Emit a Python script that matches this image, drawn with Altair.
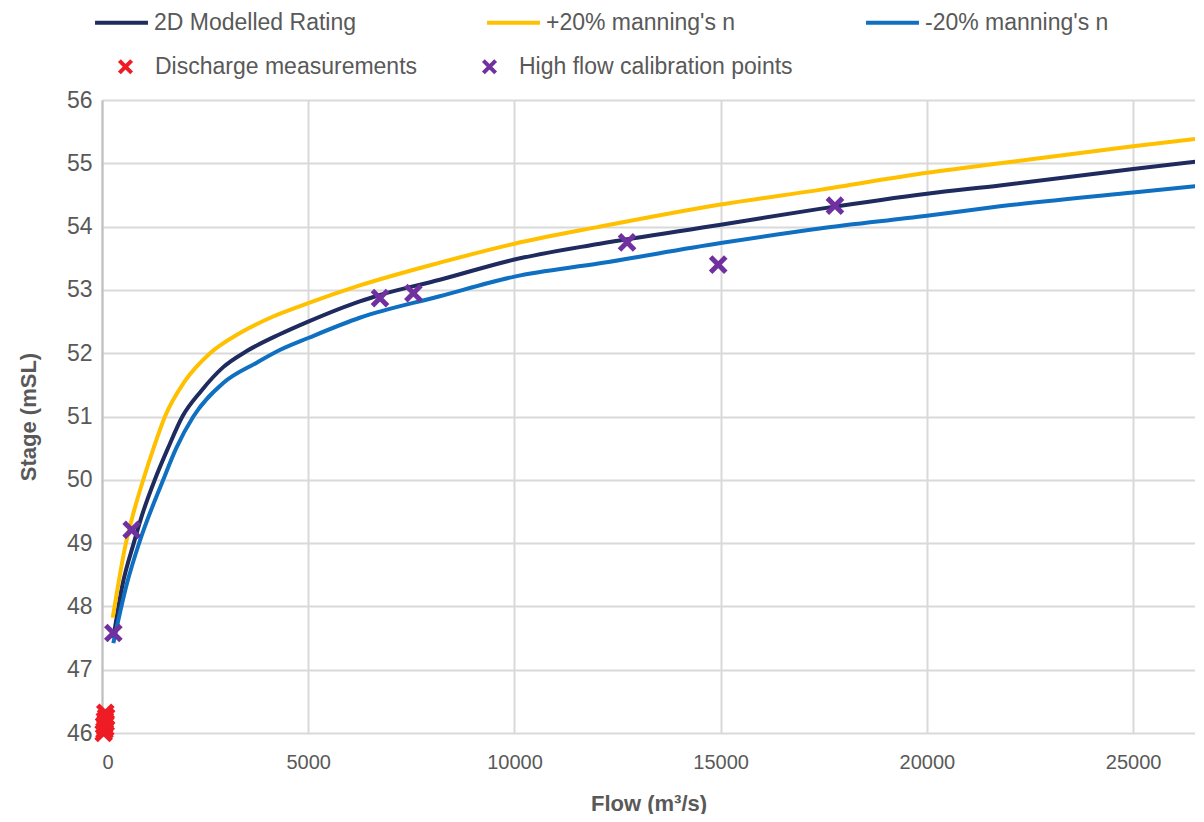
import altair as alt
import pandas as pd

# ---- data ----
line_names = ["2D Modelled Rating", "+20% manning's n", "-20% manning's n"]
point_names = ["Discharge measurements", "High flow calibration points"]

base_flow = [275, 500, 770, 1000, 1280, 1600, 1950, 2400, 2940, 3500, 4310, 5000,
             6250, 6740, 8190, 10000, 12070, 15000, 17400, 20000, 21770, 25000, 26715]
base_stage = [47.5, 48.35, 49.0, 49.5, 50.0, 50.5, 51.0, 51.4, 51.78, 52.03, 52.3, 52.5,
              52.82, 52.92, 53.16, 53.48, 53.73, 54.03, 54.28, 54.52, 54.65, 54.91, 55.04]

plus_flow = [260, 580, 760, 1000, 1250, 1527, 2000, 2620, 3345, 4150, 5000,
             6250, 8190, 10000, 12070, 15000, 17400, 20000, 21770, 25000, 26715]
plus_stage = [47.82, 49.0, 49.47, 50.0, 50.5, 51.0, 51.55, 52.0, 52.32, 52.58, 52.79,
              53.07, 53.43, 53.73, 54.0, 54.35, 54.58, 54.85, 55.0, 55.27, 55.4]

minus_flow = [275, 600, 900, 1485, 1800, 2215, 2940, 3750, 4310, 5000,
              6250, 8190, 10000, 12070, 15000, 17400, 20000, 21770, 25000, 26715]
minus_stage = [47.42, 48.35, 49.0, 50.0, 50.5, 51.0, 51.53, 51.85, 52.05, 52.24,
               52.56, 52.9, 53.21, 53.42, 53.74, 53.97, 54.17, 54.32, 54.54, 54.65]

meas_flow = [40, 60, 80, 50, 90, 70, 100, 80]
meas_stage = [46.0, 46.04, 46.08, 46.12, 46.16, 46.2, 46.25, 46.32]

cal_flow = [275, 720, 6740, 7550, 12730, 14940, 17770]
cal_stage = [47.58, 49.21, 52.87, 52.95, 53.75, 53.4, 54.33]

x_ticks = [0, 5000, 10000, 15000, 20000, 25000]
y_ticks = [46, 47, 48, 49, 50, 51, 52, 53, 54, 55, 56]

line_colors = ["#1F2A5E", "#FFC000", "#0F70C1"]
point_colors = ["#EE1C25", "#7030A0"]
X_PATH = "M-1,-1L1,1M-1,1L1,-1"

lines = pd.concat([
    pd.DataFrame({"flow": base_flow, "stage": base_stage, "series": line_names[0], "o": range(len(base_flow))}),
    pd.DataFrame({"flow": plus_flow, "stage": plus_stage, "series": line_names[1], "o": range(len(plus_flow))}),
    pd.DataFrame({"flow": minus_flow, "stage": minus_stage, "series": line_names[2], "o": range(len(minus_flow))}),
])
points = pd.concat([
    pd.DataFrame({"flow": meas_flow, "stage": meas_stage, "series": point_names[0]}),
    pd.DataFrame({"flow": cal_flow, "stage": cal_stage, "series": point_names[1]}),
])

FONT = "Liberation Sans"
GRID = "#D9D9D9"
TXT = "#595959"

x_enc = alt.X("flow:Q",
              scale=alt.Scale(domain=[0, 26500], nice=False, zero=False),
              axis=alt.Axis(values=x_ticks, title="Flow (m³/s)", format="d",
                            labelFontSize=20, labelColor=TXT, labelFont=FONT,
                            titleFontSize=22, titleColor=TXT, titleFont=FONT,
                            titleFontWeight="bold", labelPadding=19, titlePadding=21,
                            ticks=False, domain=False, grid=True, gridColor=GRID, gridWidth=2))
y_enc = alt.Y("stage:Q",
              scale=alt.Scale(domain=[46, 56], nice=False, zero=False),
              axis=alt.Axis(values=y_ticks, title="Stage (mSL)", format="d",
                            labelFontSize=23, labelColor=TXT, labelFont=FONT,
                            titleFontSize=22, titleColor=TXT, titleFont=FONT,
                            titleFontWeight="bold", labelPadding=10, titlePadding=26,
                            ticks=False, domain=True, domainColor="#BFBFBF", domainWidth=2,
                            grid=True, gridColor=GRID, gridWidth=2))

line_legend = alt.Legend(title=None, orient="none", legendX=-9, legendY=-106,
                         columns=3, direction="horizontal",
                         labelFontSize=23, labelFont=FONT, labelColor=TXT,
                         labelOffset=4, columnPadding=122,
                         symbolType="stroke", symbolSize=2800, symbolStrokeWidth=4,
                         labelLimit=500)
point_legend = alt.Legend(title=None, orient="none", legendX=12, legendY=-45,
                          columns=3, direction="horizontal",
                          labelFontSize=23, labelFont=FONT, labelColor=TXT,
                          labelOffset=18, columnPadding=57,
                          symbolType=X_PATH, symbolSize=150, symbolStrokeWidth=4,
                          symbolFillColor="transparent", labelLimit=500)

line_layer = alt.Chart(lines).mark_line(strokeWidth=4, clip=True, interpolate="monotone").encode(
    x=x_enc, y=y_enc,
    color=alt.Color("series:N", scale=alt.Scale(domain=line_names, range=line_colors),
                    legend=line_legend),
    order="o:Q",
)

point_layer = alt.Chart(points).mark_point(filled=False, strokeWidth=5, opacity=1, size=230,
                                           shape=X_PATH).encode(
    x=x_enc, y=y_enc,
    stroke=alt.Stroke("series:N", scale=alt.Scale(domain=point_names, range=point_colors),
                      legend=point_legend),
)

chart = alt.layer(line_layer, point_layer).properties(
    width=1093, height=633,
    padding={"left": 9, "top": -14, "right": 0, "bottom": 0},
).configure_view(stroke=None).configure(font=FONT)

chart.save("out.html", embed_options={"renderer": "svg", "actions": False})
